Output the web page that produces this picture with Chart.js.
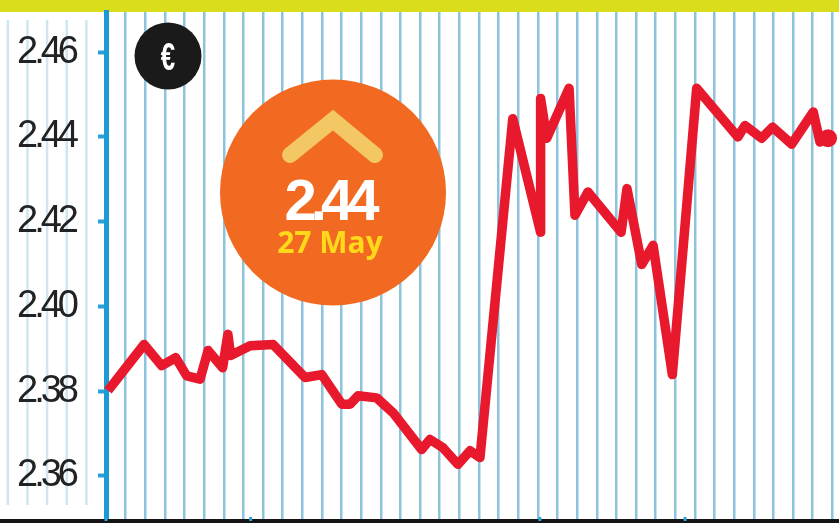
<!DOCTYPE html>
<html>
<head>
<meta charset="utf-8">
<style>
  html, body { margin: 0; padding: 0; background: #fff; }
  #wrap { width: 839px; height: 523px; }
</style>
<script src="https://cdn.jsdelivr.net/npm/chart.js@4"></script>
</head>
<body>
<div id="wrap"><canvas id="euroChart" width="839" height="523"></canvas></div>
<script>
// Euro rate. Days are in grid steps from the y axis
const days = [0.1, 1.94, 2.84, 3.55, 4.11, 4.79, 5.2, 5.94, 6.21, 6.35, 7.34, 8.51, 10.14, 10.99, 12.01, 12.43, 12.84, 13.79, 14.62, 16.08, 16.5, 17.17, 17.93, 18.54, 19.05, 20.72, 22.14, 22.14, 22.45, 23.59, 23.89, 24.55, 26.24, 26.54, 27.29, 27.87, 28.85, 30.09, 32.19, 32.55, 33.4, 33.96, 34.93, 36.03, 36.37, 36.78];
const rates = [2.3801, 2.391, 2.386, 2.3879, 2.3836, 2.3828, 2.3896, 2.3855, 2.3934, 2.3884, 2.3907, 2.391, 2.3832, 2.3839, 2.3769, 2.3769, 2.3789, 2.3784, 2.3749, 2.3662, 2.3686, 2.3666, 2.3627, 2.3659, 2.3643, 2.4443, 2.4175, 2.4491, 2.4397, 2.4515, 2.4215, 2.427, 2.4175, 2.4278, 2.4099, 2.4144, 2.3839, 2.4515, 2.44, 2.4427, 2.4397, 2.4423, 2.4383, 2.4459, 2.4388, 2.4397];
const yTicks = [2.36, 2.38, 2.40, 2.42, 2.44, 2.46];
const gridDays = Array.from(Array(38).keys());
const paleDays = [-5, -4, -3, -2, -1];
const monthTicks = [0, 7.37, 22.1, 29.5];

const calloutValue = '2.44';
const calloutDate = '27 May';
const currency = '€';

// Chart.js pads the scales for their labels, the plot has to fill the page here
function noPadding(axis) {
  axis.paddingTop = axis.paddingBottom = axis.paddingLeft = axis.paddingRight = 0;
}

// Yellow band, pale lines behind the labels, callout circles
const decorations = {
  id: 'decorations',
  beforeDraw(chart) {
    const { ctx, scales: { x } } = chart;
    ctx.save();
    ctx.fillStyle = '#d9dd1c';
    ctx.fillRect(0, 0, 839, 12);
    ctx.strokeStyle = '#cfe6f0';
    ctx.lineWidth = 2.5;
    paleDays.forEach(d => {
      const px = x.getPixelForValue(d);
      ctx.beginPath();
      ctx.moveTo(px, 20);
      ctx.lineTo(px, 505);
      ctx.stroke();
    });
    ctx.restore();
    // no narrow font installed, the tick labels get squeezed instead
    ctx.letterSpacing = '-4px';
  },
  beforeDatasetsDraw(chart) {
    const { ctx, scales: { x } } = chart;
    ctx.save();
    // black rule runs the full width, with small marks on it
    ctx.fillStyle = '#141414';
    ctx.fillRect(0, 519, 839, 4);
    ctx.strokeStyle = '#2aa5d8';
    ctx.lineWidth = 3;
    monthTicks.forEach(d => {
      const px = x.getPixelForValue(d);
      ctx.beginPath();
      ctx.moveTo(px, 517);
      ctx.lineTo(px, 521);
      ctx.stroke();
    });
    // euro badge
    ctx.fillStyle = '#1a1a1a';
    ctx.beginPath();
    ctx.arc(168, 56, 33.5, 0, Math.PI * 2);
    ctx.fill();
    ctx.fillStyle = '#fff';
    ctx.textAlign = 'center';
    ctx.textBaseline = 'alphabetic';
    ctx.letterSpacing = '0px';
    ctx.font = 'bold 38px "Liberation Sans", sans-serif';
    ctx.save();
    ctx.translate(168, 70);
    ctx.scale(0.68, 1);
    ctx.fillText(currency, 0, 0);
    ctx.restore();
    // orange callout
    ctx.fillStyle = '#f26a21';
    ctx.beginPath();
    ctx.arc(333, 192.5, 113, 0, Math.PI * 2);
    ctx.fill();
    ctx.strokeStyle = '#f4c765';
    ctx.lineWidth = 16;
    ctx.lineCap = 'round';
    ctx.lineJoin = 'miter';
    ctx.beginPath();
    ctx.moveTo(290, 155);
    ctx.lineTo(333, 120);
    ctx.lineTo(375, 155);
    ctx.stroke();
    ctx.fillStyle = '#fff';
    ctx.letterSpacing = '-6px';
    ctx.font = 'bold 58px "Liberation Sans", sans-serif';
    ctx.fillText(calloutValue, 329, 220);
    ctx.letterSpacing = '0px';
    ctx.fillStyle = '#ffd91a';
    ctx.font = 'bold 30px "Open Sans", sans-serif';
    ctx.fillText(calloutDate, 330, 253);
    ctx.restore();
  },
  afterDraw(chart) {
    chart.ctx.letterSpacing = '0px';
  }
};

new Chart(document.getElementById('euroChart'), {
  type: 'line',
  data: {
    datasets: [{
      data: days.map((d, i) => ({ x: d, y: rates[i] })),
      borderColor: '#e8192c',
      backgroundColor: '#e8192c',
      borderWidth: 9.5,
      borderJoinStyle: 'round',
      tension: 0,
      pointRadius: ctx => (ctx.dataIndex === days.length - 1 ? 9 : 0),
      pointBorderWidth: 0,
      clip: false
    }]
  },
  options: {
    responsive: false,
    animation: false,
    layout: { autoPadding: false, padding: { top: 12, bottom: 4, left: 0, right: 0 } },
    plugins: { legend: { display: false }, tooltip: { enabled: false } },
    scales: {
      x: {
        type: 'linear',
        min: 0,
        max: 37.34,
        afterBuildTicks: axis => { axis.ticks = gridDays.map(value => ({ value })); },
        afterFit: axis => { axis.height = 0; noPadding(axis); },
        ticks: { display: false },
        grid: { color: '#8cc3dd', lineWidth: 2.5, drawTicks: false },
        border: { display: false }
      },
      y: {
        min: 2.3498,
        max: 2.4695,
        afterBuildTicks: axis => { axis.ticks = yTicks.map(value => ({ value })); },
        afterFit: axis => { axis.width = 106; noPadding(axis); },
        ticks: {
          color: '#222',
          padding: 23,
          font: { family: '"Liberation Sans", sans-serif', size: 38 },
          callback: v => v.toFixed(2)
        },
        grid: { drawOnChartArea: false, tickLength: 8, tickColor: '#2aa0d8', tickWidth: 4 },
        border: { color: '#1b9ad6', width: 5 }
      }
    }
  },
  plugins: [decorations]
});
</script>
</body>
</html>
